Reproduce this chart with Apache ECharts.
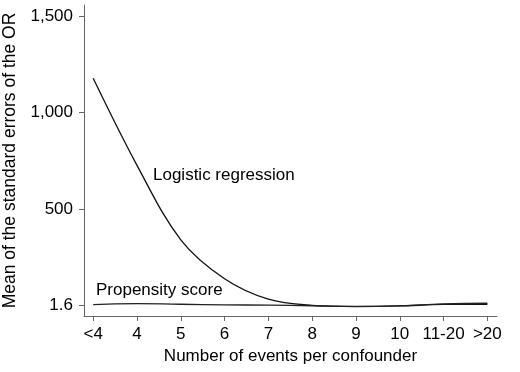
<!DOCTYPE html>
<html>
<head>
<meta charset="utf-8">
<script src="https://cdn.jsdelivr.net/npm/echarts@6/dist/echarts.min.js"></script>
<style>
  html, body { margin: 0; padding: 0; background: #fff; }
  #chart { width: 520px; height: 372px; }
</style>
</head>
<body>
<div id="chart"></div>
<script>
// categories on the x axis
var categories = ['<4', '4', '5', '6', '7', '8', '9', '10', '11-20', '>20'];
// y tick values shown
var yTicks = [1.6, 500, 1000, 1500];
// mean standard errors
var logisticValues = [1177, 726, 340, 138, 32, 0, -6, -3, 5, 6];
var propensityValues = [4, 9, 6, 3, 1, -2, -5, -2, 8, 11];

function toPairs(vals) {
    var out = [];
    for (var i = 0; i < vals.length; ++i) {
        out.push([i, vals[i]]);
    }
    return out;
}

var font = 'Liberation Sans, Arial, sans-serif';
var axisColor = '#666';
var textColor = '#000';

var chart = echarts.init(document.getElementById('chart'), null, { renderer: 'canvas' });
var option = {
    backgroundColor: '#fff',
    animation: false,
    grid: { left: 84, right: 23, top: 5, bottom: 56, containLabel: false, outerBoundsMode: 'none' },
    xAxis: {
        type: 'value',
        min: -0.21,
        max: 9.22,
        name: 'Number of events per confounder',
        nameLocation: 'middle',
        nameGap: 28,
        nameTextStyle: { fontFamily: font, fontSize: 17, color: textColor },
        axisLine: { onZero: false, lineStyle: { color: axisColor, width: 1 } },
        axisTick: { length: 5, lineStyle: { color: axisColor }, customValues: [0, 1, 2, 3, 4, 5, 6, 7, 8, 9] },
        axisLabel: {
            customValues: [0, 1, 2, 3, 4, 5, 6, 7, 8, 9],
            formatter: function (v) { return categories[Math.round(v)]; },
            fontFamily: font, fontSize: 17, color: textColor, margin: 10
        },
        splitLine: { show: false }
    },
    yAxis: {
        type: 'value',
        min: -55,
        max: 1557,
        name: 'Mean of the standard errors of the OR',
        nameLocation: 'middle',
        nameGap: 47,
        nameTextStyle: { fontFamily: font, fontSize: 17.5, color: textColor },
        axisLine: { show: true, onZero: false, lineStyle: { color: axisColor, width: 1 } },
        axisTick: { show: true, length: 5, lineStyle: { color: axisColor }, customValues: yTicks },
        axisLabel: {
            customValues: yTicks,
            formatter: function (v) {
                if (v < 10) return '1.6';
                return v >= 1000 ? Math.floor(v / 1000) + ',' + ('00' + (v % 1000)).slice(-3) : String(v);
            },
            fontFamily: font, fontSize: 17, color: textColor, margin: 11
        },
        splitLine: { show: false }
    },
    series: [
        {
            name: 'Logistic regression',
            type: 'line',
            smooth: 0.35,
            symbol: 'none',
            data: toPairs(logisticValues),
            lineStyle: { color: '#111', width: 1.3 }
        },
        {
            name: 'Propensity score',
            type: 'line',
            smooth: 0.5,
            symbol: 'none',
            data: toPairs(propensityValues),
            lineStyle: { color: '#222', width: 1.3 }
        }
    ],
    graphic: [
        {
            type: 'text', left: 153, top: 167,
            style: { text: 'Logistic regression', font: '17px ' + font, fill: textColor }
        },
        {
            type: 'text', left: 96, top: 282,
            style: { text: 'Propensity score', font: '17px ' + font, fill: textColor }
        }
    ]
};
chart.setOption(option);
</script>
</body>
</html>
